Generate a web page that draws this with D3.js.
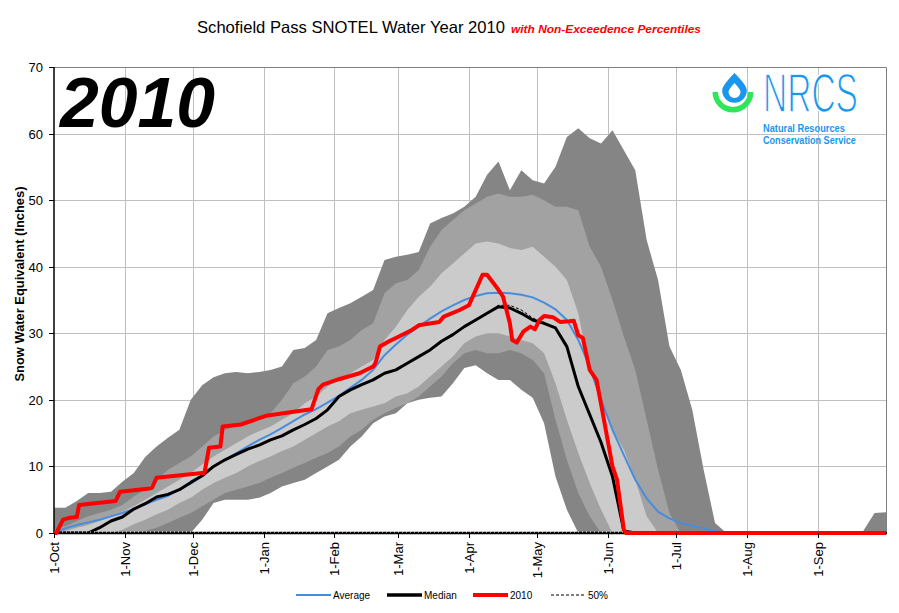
<!DOCTYPE html>
<html><head><meta charset="utf-8">
<script src="https://cdn.jsdelivr.net/npm/d3@7"></script>
<style>
body{margin:0;background:#fff}
svg{display:block}
text{font-family:Arial,"Liberation Sans",sans-serif}
</style>
</head><body>
<svg id="c" width="899" height="613"></svg>
<script>
// ---- DATA (days since 1-Oct-2009, SWE inches) ----
const dayIndex = [0,5,10,15,20,25,30,35,40,45,50,55,60,65,70,75,80,85,90,95,100,105,110,115,120,125,130,135,140,145,150,155,160,165,170,175,180,185,190,195,200,205,210,215,220,225,230,235,240,245,250,255,260,265,270,275,280,285,290,295,300,305,310,315,320,325,330,335,340,345,350,355,360,365];
const maxSWE = [3.8,3.8,4.8,6.0,6.0,6.2,7.7,9.0,11.4,13.0,14.3,15.5,20.0,22.2,23.4,24.0,24.2,24.0,24.2,24.5,25.0,27.5,27.8,29.0,33.0,33.8,34.5,35.5,36.5,41.0,41.5,41.8,42.2,46.5,47.3,48.0,49.0,50.5,53.8,55.8,51.5,54.5,53.0,52.5,55.0,59.5,60.8,59.3,58.5,60.5,57.5,54.5,44.0,38.0,28.0,24.5,18.5,9.5,1.5,0,0,0,0,0,0,0,0,0,0,0,0,0.3,3.0,3.1];
const p90 = [0.5,1.0,1.8,2.5,3.0,3.5,4.2,5.5,6.5,8.0,9.5,10.5,11.5,13.0,14.5,15.5,16.0,16.5,17.0,18.0,20.0,22.5,23.5,25.0,27.5,28.0,29.0,30.5,31.5,36.0,37.5,38.0,39.5,43.0,45.5,47.0,48.5,49.5,50.5,51.0,50.5,50.5,50.8,50.0,49.0,49.0,48.5,43.0,40.0,35.0,29.5,24.5,17.0,9.5,3.0,0,0,0,0,0,0,0,0,0,0,0,0,0,0,0,0,0,0,0];
const p70 = [0,0.3,0.8,1.2,1.8,2.5,3.2,4.0,5.0,6.0,7.0,8.0,9.0,10.3,11.5,12.5,13.5,14.5,15.3,16.0,17.0,18.0,19.5,20.5,22.0,23.0,24.0,25.0,26.0,29.0,31.0,33.5,35.5,37.0,39.0,40.5,42.0,43.5,43.8,43.5,42.8,42.5,43.0,41.5,40.0,38.0,33.0,24.5,19.5,15.5,12.5,8.0,2.5,0,0,0,0,0,0,0,0,0,0,0,0,0,0,0,0,0,0,0,0,0];
const p30 = [0,0,0,0,0,0,0.5,1.3,2.0,2.8,3.5,4.5,5.3,6.5,7.5,8.3,9.0,10.0,10.8,11.5,12.3,13.0,14.0,15.0,16.0,16.8,18.0,18.5,19.0,19.5,20.5,21.0,22.0,23.5,25.0,26.5,28.5,29.5,30.0,30.0,29.5,29.0,28.5,27.0,22.5,17.0,12.0,7.5,3.5,0,0,0,0,0,0,0,0,0,0,0,0,0,0,0,0,0,0,0,0,0,0,0,0,0];
const p10 = [0,0,0,0,0,0,0,0,0.3,0.8,1.5,2.3,3.0,4.0,5.0,6.0,6.5,7.0,7.5,8.3,9.0,9.8,10.5,11.3,12.0,13.0,14.5,15.5,17.0,18.0,18.8,19.5,20.5,22.0,23.5,25.5,27.0,27.5,27.0,27.0,27.5,27.0,26.0,24.0,17.0,11.0,6.0,2.5,0,0,0,0,0,0,0,0,0,0,0,0,0,0,0,0,0,0,0,0,0,0,0,0,0,0];
const minSWE = [0,0,0,0,0,0,0,0,0,0,0,0,0,2.0,4.5,5.0,5.0,5.0,5.3,6.0,7.0,7.5,8.0,9.0,10.0,11.0,13.0,14.5,16.5,17.5,18.0,19.5,20.0,20.3,20.5,22.5,24.8,25.2,24.0,23.0,23.0,21.5,20.3,16.5,8.5,3.5,0,0,0,0,0,0,0,0,0,0,0,0,0,0,0,0,0,0,0,0,0,0,0,0,0,0,0,0];
const average = [0.1,0.7,1.2,1.6,2.0,2.5,3.0,3.6,4.3,5.0,5.6,6.6,7.4,8.6,10.0,11.0,12.0,13.0,14.0,14.8,15.8,16.8,17.8,18.6,19.6,20.6,21.8,23.0,24.5,26.7,28.3,29.8,31.0,32.2,33.3,34.2,35.0,35.6,36.0,36.1,36.0,35.8,35.4,34.6,33.6,32.0,29.0,25.0,20.0,15.5,11.7,8.0,5.2,3.2,2.2,1.5,1.1,0.7,0.3,0,0,0,0,0,0,0,0,0,0,0,0,0,0,0];
const median = [0,0,0,0,0.8,1.8,2.4,3.6,4.4,5.4,5.8,6.5,7.6,8.6,10.0,11.0,11.8,12.6,13.2,14.0,14.6,15.5,16.3,17.2,18.5,20.5,21.5,22.3,23.0,24.0,24.5,25.5,26.5,27.5,28.8,29.8,31.0,32.0,33.0,34.0,33.8,33.0,32.0,31.5,30.8,28.0,22.0,17.8,13.6,8.5,0.3,0,0,0,0,0,0,0,0,0,0,0,0,0,0,0,0,0,0,0,0,0,0,0];
const pct50 = [0,0,0,0,0.8,1.8,2.4,3.6,4.4,5.4,5.8,6.5,7.6,8.6,10.0,11.0,11.8,12.6,13.2,14.0,14.6,15.5,16.3,17.2,18.5,20.5,21.5,22.3,23.0,24.0,24.5,25.5,26.5,27.5,28.8,29.8,31.0,32.0,33.0,34.2,34.2,33.5,32.3,31.5,30.8,28.0,22.0,17.8,13.6,8.5,0.3,0,0,0,0,0,0,0,0,0,0,0,0,0,0,0,0,0,0,0,0,0,0,0];
const days2010 = [0,1,4,7,10,11,24,27,29,42,43,45,65,66,68,73,74,82,93,109,113,116,118,125,134,140,141,143,147,150,157,160,169,171,178,182,188,190,194,197,200,201,203,206,209,211,213,215,219,222,226,228,230,232,235,238,241,245,247,250,251,365];
const wy2010 = [0,0,2,2.3,2.4,4.2,4.7,4.8,6.2,6.7,6.8,8.3,9,9,12.8,13,16,16.3,17.6,18.4,18.6,21.6,22.3,23.1,24,25,25.5,28,28.8,29.3,30.5,31.2,31.7,32.5,33.5,34.2,38.8,38.8,37,35.5,31.5,29,28.6,30.3,31,30.6,32,32.6,32.4,31.7,31.8,31.9,29.7,29.3,24.5,23,17.5,10,8,0.5,0,0];
const yTicks = [0,10,20,30,40,50,60,70];
const legendItems = ["Average","Median","2010","50%"];

// ---- CHART ----
const svg = d3.select('#c');
const L=54, R=886, T=67, B=533;
const start = Date.UTC(2009,9,1);
const toDate = d => new Date(start + d*864e5);
const x = d3.scaleUtc().domain([toDate(0), toDate(365)]).range([L,R]);
const y = d3.scaleLinear().domain([0,70]).range([B,T]);
const months = d3.utcMonth.range(toDate(0), toDate(365));

svg.append('rect').attr('width',899).attr('height',613).attr('fill','#fff');

// grid
const grid = svg.append('g').attr('stroke','#c0c0c0').attr('stroke-width',1);
yTicks.filter(v=>v>0 && v<70).forEach(v=>{
  grid.append('line').attr('x1',L).attr('x2',R).attr('y1',Math.round(y(v))+0.5).attr('y2',Math.round(y(v))+0.5);
});
months.slice(1).forEach(m=>{
  const xx=Math.round(x(m))+0.5;
  grid.append('line').attr('x1',xx).attr('x2',xx).attr('y1',T).attr('y2',B);
});

// bands
const defs = svg.append('defs');
defs.append('clipPath').attr('id','clip').append('rect').attr('x',L).attr('y',T).attr('width',R-L).attr('height',B-T);
const plot = svg.append('g').attr('clip-path','url(#clip)');
const bands = [[maxSWE,'#858585'],[p90,'#a2a2a2'],[p70,'#cbcbcb'],[p30,'#a2a2a2'],[p10,'#858585'],[minSWE,'#ffffff']];
bands.forEach(([vals,col])=>{
  const area = d3.area().x((d,i)=>x(toDate(dayIndex[i]))).y0(y(0)).y1(d=>y(d));
  plot.append('path').datum(vals).attr('d',area).attr('fill',col);
});

// border top/right
svg.append('path').attr('d',`M${L},${T+0.5}H${R+0.5}V${B}`).attr('fill','none').attr('stroke','#808080').attr('stroke-width',1);

const lineOf = (daysArr) => d3.line().x((d,i)=>x(toDate(daysArr[i]))).y(d=>y(d));

// axis lines
svg.append('line').attr('x1',L).attr('x2',L).attr('y1',T).attr('y2',B+1).attr('stroke','#000').attr('stroke-width',1.5);
svg.append('line').attr('x1',L).attr('x2',R+1).attr('y1',B).attr('y2',B).attr('stroke','#000').attr('stroke-width',2.5);

// series lines
plot.append('path').datum(average).attr('d',lineOf(dayIndex)).attr('fill','none').attr('stroke','#4a8cdc').attr('stroke-width',2);
plot.append('path').datum(median).attr('d',lineOf(dayIndex)).attr('fill','none').attr('stroke','#000').attr('stroke-width',3).attr('stroke-linejoin','round');
plot.append('path').datum(pct50).attr('d',lineOf(dayIndex)).attr('fill','none').attr('stroke','#000').attr('stroke-width',1).attr('stroke-dasharray','3,2');
svg.append('line').attr('x1',L).attr('x2',R).attr('y1',B-1).attr('y2',B-1).attr('stroke','#fff').attr('stroke-width',1).attr('stroke-dasharray','1,3');
svg.append('path').datum(wy2010).attr('d',lineOf(days2010)).attr('fill','none').attr('stroke','#ff0000').attr('stroke-width',4).attr('stroke-linejoin','round');

// y axis ticks & labels
const yAxis = svg.append('g');
yTicks.forEach(v=>{
  const yy = Math.round(y(v))+0.5;
  yAxis.append('line').attr('x1',L-5).attr('x2',L).attr('y1',yy).attr('y2',yy).attr('stroke','#000');
  yAxis.append('text').attr('x',L-11).attr('y',yy).attr('dy','0.36em').attr('text-anchor','end').attr('font-size',13).text(v);
});
// x axis ticks & labels
const fmt = d3.utcFormat('%-d-%b');
months.forEach(m=>{
  const xx = Math.round(x(m))+0.5;
  svg.append('line').attr('x1',xx).attr('x2',xx).attr('y1',B).attr('y2',B+5).attr('stroke','#000');
  svg.append('text').attr('transform',`translate(${xx},${B+9}) rotate(-90)`).attr('dy','0.36em').attr('text-anchor','end').attr('font-size',13).text(fmt(m));
});

// titles
svg.append('text').attr('x',197).attr('y',33).attr('font-size',16.5).attr('textLength',308).attr('lengthAdjust','spacingAndGlyphs').text('Schofield Pass SNOTEL Water Year 2010');
svg.append('text').attr('x',511).attr('y',33).attr('font-size',11.6).attr('font-weight','bold').attr('font-style','italic').attr('fill','#ff0000').attr('textLength',190).attr('lengthAdjust','spacingAndGlyphs').text('with Non-Exceedence Percentiles');
svg.append('text').attr('transform','translate(24,284) rotate(-90)').attr('text-anchor','middle').attr('font-size',12.5).attr('font-weight','bold').attr('textLength',195).attr('lengthAdjust','spacingAndGlyphs').text('Snow Water Equivalent (Inches)');
svg.append('text').attr('x',60).attr('y',127).attr('font-size',71).attr('font-weight','bold').attr('font-style','italic').attr('textLength',155).attr('lengthAdjust','spacingAndGlyphs').text('2010');

// NRCS logo
const blue='#1a96ee', green='#2ee65a';
const logo = svg.append('g');
logo.append('path').attr('d',d3.arc().innerRadius(15).outerRadius(20.5).startAngle(Math.PI/2).endAngle(Math.PI*1.5)()).attr('transform','translate(733,92)').attr('fill',green);
const drop=(cx,ty,cy,r)=>`M${cx},${ty} Q${cx-r*1.05},${cy-r*0.35} ${cx-r},${cy} A${r},${r} 0 0 0 ${cx+r},${cy} Q${cx+r*1.05},${cy-r*0.35} ${cx},${ty} Z`;
logo.append('path').attr('d',drop(734.5,73,90.5,12.3)).attr('fill',blue);
logo.append('path').attr('d',drop(734.5,83,92,6)).attr('fill','#fff');
const narrow = 'font-family:"Liberation Sans Narrow","Arial Narrow",Arial,sans-serif';
const fitText = (sel, width) => {
  const w = sel.node().getComputedTextLength();
  const s = width / w;
  const xx = +sel.attr('x'), yy = +sel.attr('y');
  sel.attr('x',0).attr('y',0).attr('transform',`translate(${xx},${yy}) scale(${s},1)`);
};
const nrcs = logo.append('text').attr('x',763).attr('y',112).attr('font-size',55).attr('fill',blue).attr('stroke','#fff').attr('stroke-width',1.6).attr('style',narrow).text('NRCS');
fitText(nrcs, 95);
const t1 = logo.append('text').attr('x',763).attr('y',132).attr('font-size',10.5).attr('font-weight','bold').attr('fill',blue).attr('style',narrow).text('Natural Resources');
fitText(t1, 82);
const t2 = logo.append('text').attr('x',763).attr('y',143.5).attr('font-size',10.5).attr('font-weight','bold').attr('fill',blue).attr('style',narrow).text('Conservation Service');
fitText(t2, 93);

// legend
const leg = svg.append('g').attr('font-size',10);
const legStyle = [
  {x:296, c:'#4a8cdc', w:2, dash:null},
  {x:387, c:'#000', w:3.5, dash:null},
  {x:473, c:'#ff0000', w:4, dash:null},
  {x:551, c:'#000', w:1, dash:'3,2'}
];
legendItems.forEach((name,i)=>{
  const s = legStyle[i];
  const l = leg.append('line').attr('x1',s.x).attr('x2',s.x+35).attr('y1',595).attr('y2',595).attr('stroke',s.c).attr('stroke-width',s.w);
  if(s.dash) l.attr('stroke-dasharray',s.dash);
  leg.append('text').attr('x',s.x+37).attr('y',598.5).text(name);
});
</script>
</body></html>
